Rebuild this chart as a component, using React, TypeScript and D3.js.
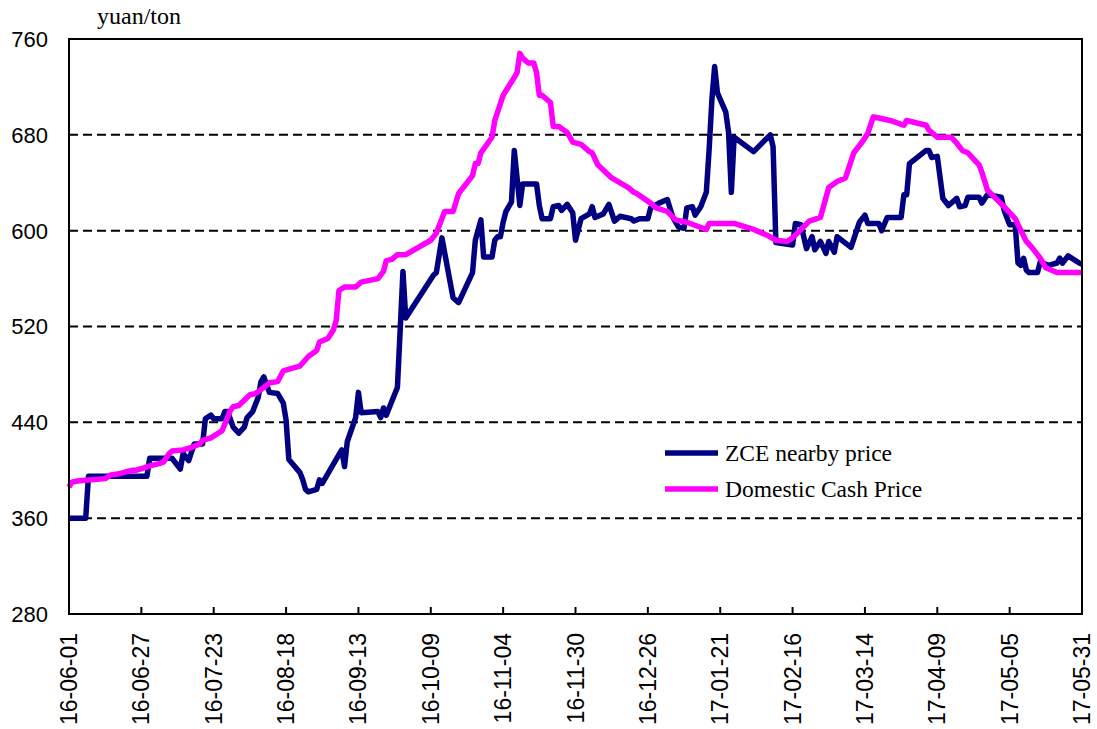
import React from "react";
import * as d3 from "d3";

const zceDates = [
  "2016-06-01","2016-06-07","2016-06-08","2016-06-29","2016-06-30","2016-07-05","2016-07-08","2016-07-11","2016-07-12","2016-07-14",
  "2016-07-16","2016-07-19","2016-07-20","2016-07-22","2016-07-23","2016-07-26","2016-07-27","2016-07-28","2016-07-30","2016-08-01",
  "2016-08-03","2016-08-04","2016-08-06","2016-08-08","2016-08-09","2016-08-10","2016-08-12","2016-08-15","2016-08-17","2016-08-18",
  "2016-08-19","2016-08-23","2016-08-24","2016-08-25","2016-08-26","2016-08-29","2016-08-30","2016-08-31","2016-09-05","2016-09-07",
  "2016-09-08","2016-09-09","2016-09-12","2016-09-13","2016-09-14","2016-09-20","2016-09-21","2016-09-22","2016-09-23","2016-09-27",
  "2016-09-28","2016-09-29","2016-09-30","2016-10-10","2016-10-11","2016-10-13","2016-10-17","2016-10-19","2016-10-24","2016-10-25",
  "2016-10-27","2016-10-28","2016-10-31","2016-11-01","2016-11-02","2016-11-03","2016-11-04","2016-11-05","2016-11-07","2016-11-08",
  "2016-11-10","2016-11-11","2016-11-16","2016-11-17","2016-11-18","2016-11-21","2016-11-22","2016-11-24","2016-11-25","2016-11-27",
  "2016-11-29","2016-11-30","2016-12-02","2016-12-05","2016-12-06","2016-12-07","2016-12-10","2016-12-12","2016-12-14","2016-12-16",
  "2016-12-20","2016-12-21","2016-12-23","2016-12-26","2016-12-27","2016-12-30","2017-01-02","2017-01-04","2017-01-06","2017-01-08",
  "2017-01-09","2017-01-11","2017-01-12","2017-01-14","2017-01-16","2017-01-17","2017-01-18","2017-01-19","2017-01-20","2017-01-23",
  "2017-01-24","2017-01-25","2017-01-26","2017-02-02","2017-02-08","2017-02-09","2017-02-10","2017-02-16","2017-02-17","2017-02-19",
  "2017-02-21","2017-02-23","2017-02-24","2017-02-26","2017-02-28","2017-03-01","2017-03-03","2017-03-04","2017-03-09","2017-03-12",
  "2017-03-14","2017-03-15","2017-03-19","2017-03-20","2017-03-22","2017-03-27","2017-03-28","2017-03-29","2017-03-30","2017-04-05",
  "2017-04-06","2017-04-07","2017-04-09","2017-04-11","2017-04-13","2017-04-16","2017-04-17","2017-04-19","2017-04-20","2017-04-24",
  "2017-04-25","2017-04-27","2017-05-02","2017-05-03","2017-05-05","2017-05-07","2017-05-08","2017-05-09","2017-05-10","2017-05-11",
  "2017-05-12","2017-05-15","2017-05-16","2017-05-19","2017-05-22","2017-05-23","2017-05-24","2017-05-26","2017-05-30","2017-05-31"
];
const zceValues = [
  360,360,395,395,410,410,410,401,414,408,
  422,422,443,446,443,443,449,449,436,431,
  436,444,449,461,474,478,465,464,456,442,
  409,398,392,384,382,384,392,389,409,417,
  403,424,444,465,448,449,444,452,446,469,
  517,566,527,563,565,594,544,540,565,592,
  609,578,578,592,595,595,607,616,624,667,
  621,639,639,621,610,610,620,621,617,622,
  615,592,610,614,620,611,614,622,608,612,
  610,608,610,610,619,623,626,611,603,602,
  619,620,613,620,632,667,709,737,715,699,
  682,632,678,666,680,670,590,588,606,605,
  585,595,584,591,581,591,582,595,586,607,
  613,606,606,600,611,611,630,630,656,667,
  667,661,662,627,621,627,620,621,628,628,
  623,630,628,617,605,605,573,571,577,567,
  565,565,574,571,573,577,573,579,573,572
];

const cashDates = [
  "2016-06-01","2016-06-02","2016-06-04","2016-06-09","2016-06-14","2016-06-16","2016-06-19","2016-06-22","2016-06-24","2016-06-25",
  "2016-06-28","2016-06-29","2016-07-04","2016-07-05","2016-07-07","2016-07-08","2016-07-12","2016-07-15","2016-07-18","2016-07-19",
  "2016-07-22","2016-07-26","2016-07-29","2016-07-30","2016-08-01","2016-08-05","2016-08-07","2016-08-10","2016-08-12","2016-08-15",
  "2016-08-17","2016-08-20","2016-08-23","2016-08-26","2016-08-29","2016-08-30","2016-09-02","2016-09-04","2016-09-05","2016-09-06",
  "2016-09-08","2016-09-12","2016-09-14","2016-09-20","2016-09-22","2016-09-23","2016-09-25","2016-09-27","2016-09-30","2016-10-09",
  "2016-10-11","2016-10-14","2016-10-17","2016-10-19","2016-10-24","2016-10-25","2016-10-26","2016-10-27","2016-10-31","2016-11-01",
  "2016-11-04","2016-11-08","2016-11-09","2016-11-10","2016-11-11","2016-11-13","2016-11-15","2016-11-16","2016-11-17","2016-11-18",
  "2016-11-21","2016-11-22","2016-11-24","2016-11-27","2016-11-29","2016-12-02","2016-12-05","2016-12-06","2016-12-08","2016-12-13",
  "2016-12-19","2016-12-21","2016-12-22","2016-12-27","2016-12-29","2017-01-02","2017-01-05","2017-01-09","2017-01-16","2017-01-17",
  "2017-01-26","2017-02-02","2017-02-07","2017-02-10","2017-02-14","2017-02-16","2017-02-22","2017-02-26","2017-03-01","2017-03-04",
  "2017-03-07","2017-03-10","2017-03-13","2017-03-15","2017-03-17","2017-03-19","2017-03-23","2017-03-28","2017-03-29","2017-04-05",
  "2017-04-06","2017-04-09","2017-04-14","2017-04-16","2017-04-18","2017-04-20","2017-04-24","2017-04-25","2017-04-27","2017-04-30",
  "2017-05-03","2017-05-07","2017-05-08","2017-05-11","2017-05-13","2017-05-16","2017-05-18","2017-05-22","2017-05-31"
];
const cashValues = [
  386,390,391,392,393,396,397,399,400,400,
  402,403,406,407,414,416,417,419,422,425,
  427,433,450,453,454,463,464,469,473,474,
  483,485,487,495,500,507,510,517,525,550,
  553,553,557,560,566,575,576,580,580,592,
  598,616,616,631,646,656,656,665,678,692,
  713,728,732,748,744,740,740,732,713,713,
  707,687,687,682,674,672,666,665,655,644,
  636,632,631,623,619,616,609,607,601,606,
  606,601,596,592,591,594,608,611,636,641,
  644,665,674,681,695,694,692,688,692,688,
  684,678,678,673,667,665,655,649,634,627,
  620,610,605,591,586,577,569,565,565
];

const yTicks = [280, 360, 440, 520, 600, 680, 760];
const gridValues = [360, 440, 520, 600, 680];
const xTickDates = [
  "2016-06-01","2016-06-27","2016-07-23","2016-08-18","2016-09-13","2016-10-09","2016-11-04",
  "2016-11-30","2016-12-26","2017-01-21","2017-02-16","2017-03-14","2017-04-09","2017-05-05","2017-05-31"
];
const seriesNames = ["ZCE nearby price", "Domestic Cash Price"];
const seriesColors = ["#000080", "#FF00FF"];

const parse = d3.timeParse("%Y-%m-%d");
const fmt = d3.timeFormat("%y-%m-%d");

export default function App() {
  const W = 1097, H = 729;
  const L = 69, R = 1082, T = 39, B = 614;
  const x = d3.scaleTime().domain([parse("2016-06-01")!, parse("2017-05-31")!]).range([L, R]);
  const y = d3.scaleLinear().domain([280, 760]).range([B, T]);
  const line = d3.line<[Date, number]>().x(d => x(d[0])).y(d => y(d[1]));
  const zce: [Date, number][] = zceDates.map((d, i) => [parse(d)!, zceValues[i]]);
  const cash: [Date, number][] = cashDates.map((d, i) => [parse(d)!, cashValues[i]]);
  const legendY = [453, 489];

  return (
    <svg width={W} height={H} style={{ position: "absolute", left: 0, top: 0, background: "#fff" }}>
      <rect x={0} y={0} width={W} height={H} fill="#fff" />
      {gridValues.map(v => (
        <line key={v} x1={L} x2={R} y1={y(v)} y2={y(v)} stroke="#000" strokeWidth={2} strokeDasharray="9,5" />
      ))}
      <path d={line(zce)!} fill="none" stroke={seriesColors[0]} strokeWidth={5.5} strokeLinejoin="round" />
      <path d={line(cash)!} fill="none" stroke={seriesColors[1]} strokeWidth={5.5} strokeLinejoin="round" />
      <rect x={L} y={T} width={R - L} height={B - T} fill="none" stroke="#000" strokeWidth={2} />
      {xTickDates.map(d => {
        const xx = x(parse(d)!);
        return (
          <g key={d}>
            <line x1={xx} x2={xx} y1={B} y2={B - 7} stroke="#000" strokeWidth={2} />
            <text
              transform={`translate(${xx},633) rotate(-90)`}
              textAnchor="end"
              dy="0.35em"
              fontFamily="Liberation Sans, Arial, sans-serif"
              fontSize={23}
              fill="#000"
            >
              {fmt(parse(d)!)}
            </text>
          </g>
        );
      })}
      {yTicks.map(v => (
        <text key={v} x={48} y={y(v)} dy="0.36em" textAnchor="end" fontFamily="Liberation Sans, Arial, sans-serif" fontSize={22} fill="#000">
          {v}
        </text>
      ))}
      <text x={97} y={24} fontFamily="Liberation Serif, Times New Roman, serif" fontSize={24} fill="#000">yuan/ton</text>
      {seriesNames.map((n, i) => (
        <g key={n}>
          <line x1={665} x2={718} y1={legendY[i]} y2={legendY[i]} stroke={seriesColors[i]} strokeWidth={5.5} />
          <text x={725} y={legendY[i]} dy="0.33em" fontFamily="Liberation Serif, Times New Roman, serif" fontSize={23.5} fill="#000">{n}</text>
        </g>
      ))}
    </svg>
  );
}
